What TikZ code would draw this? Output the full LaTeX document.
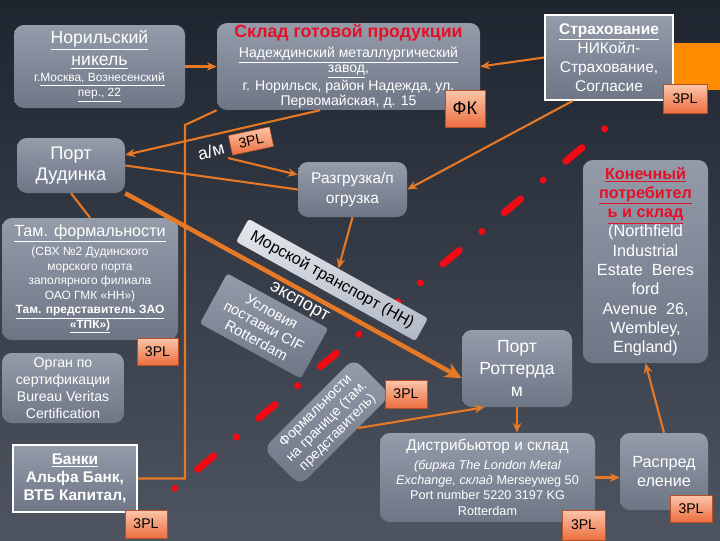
\documentclass[tikz,border=0pt]{standalone}
\usepackage{fontspec}
\setmainfont{Liberation Sans}
\usetikzlibrary{arrows.meta}

\definecolor{bgtop}{RGB}{30,37,47}
\definecolor{bgbot}{RGB}{78,84,96}
\definecolor{boxtop}{RGB}{148,156,170}
\definecolor{boxbot}{RGB}{110,118,134}
\definecolor{lighttop}{RGB}{230,233,238}
\definecolor{lightbot}{RGB}{176,183,195}
\definecolor{tagtop}{RGB}{252,198,170}
\definecolor{tagbot}{RGB}{236,110,64}
\definecolor{tagline}{RGB}{180,80,40}
\definecolor{linkorange}{RGB}{230,120,38}
\definecolor{titlered}{RGB}{228,16,40}
\definecolor{barorange}{RGB}{255,140,0}
\definecolor{dashred}{RGB}{240,10,20}

\newcommand{\fsz}[2]{\fontsize{#1}{#2}\selectfont}
\newcommand{\kred}[1]{{\bfseries\color{titlered}\underline{#1}}}

\tikzset{
  box/.style={rounded corners=7pt, top color=boxtop, bottom color=boxbot,
    text=white, align=center, inner sep=1pt},
  wbox/.style={box, rounded corners=0pt, draw=white, line width=1.4pt},
  lightbox/.style={box, rounded corners=2pt, top color=lighttop,
    bottom color=lightbot, text=black},
  tag/.style={draw=tagline, line width=0.4pt, top color=tagtop,
    bottom color=tagbot, text=black, align=center, inner sep=1pt,
    font=\fsz{10pt}{11pt}},
  wh/.style 2 args={minimum width=#1*0.025cm, minimum height=#2*0.025cm},
  link/.style={draw=linkorange, line width=1.5pt},
  linkto/.style={link, -{Stealth[length=7pt,width=6pt]}},
  export/.style={draw=linkorange, line width=3.2pt,
    -{Stealth[length=12pt,width=11pt]}},
  reddash/.style={draw=dashred, line width=5pt, line cap=round,
    dash pattern=on 14.94pt off 20.98pt on 0.01pt off 20.98pt,
    dash phase=17.43pt}
}

\begin{document}
\begin{tikzpicture}[x=0.025cm,y=-0.025cm]
%\draw[help lines,step=20] (0,0) grid (720,540);
\useasboundingbox (0,0) rectangle (720,540);
\shade[top color=bgtop, bottom color=bgbot] (0,0) rectangle (720,540);
\fill[barorange] (673,43) rectangle (722,90);

% border line
\coordinate (rdA) at (155,505);
\coordinate (rdB) at (627,110);
\draw[reddash] (rdA) -- (rdB);

\node[box, wh={171}{83}, font=\fsz{12.5pt}{15.5pt}] (nickel) at (99.5,66.5)
  {\underline{Норильский}\\\underline{никель}\\[-4pt]
   {\fsz{8.5pt}{10pt}г.\underline{Москва, Вознесенский}}\\[-4.8pt]
   {\fsz{8.5pt}{10pt}\underline{пер., 22}}};
\node[box, wh={263}{83}, font=\fsz{10pt}{10.8pt}] (sklad) at (348.5,66.5)
  {{\fsz{12.6pt}{13pt}\bfseries\color{titlered}Склад готовой продукции}\\[3.5pt]
   \underline{Надеждинский металлургический}\\\underline{завод},\\
   г. Норильск, район Надежда, ул.\\Первомайская, д. 15};
\node[tag, wh={40}{37}, font=\fsz{13pt}{14pt}] (fk) at (465,108.5) {ФК};

\node[wbox, wh={128}{85}, font=\fsz{11pt}{13.5pt}] (strah) at (609,57.5)
  {\textbf{\underline{Страхование}}\\НИКойл-\\Страхование,\\Согласие};
\node[tag, wh={44}{29}] (tagstrah) at (685,98.5) {3PL};

\node[box, wh={108}{55}, font=\fsz{13pt}{14.5pt}] (dudinka) at (71,165.5)
  {Порт\\Дудинка};
\node[box, wh={109}{55}, font=\fsz{11pt}{14pt}] (razgr) at (352.5,189.5)
  {Разгрузка/п\\огрузка};
\node[text=white, rotate=15, inner sep=0pt, font=\fsz{12.5pt}{13pt}] (am) at (211,151) {а/м};
\node[tag, wh={42}{20}, rotate=12] (tagam) at (251,141) {3PL};
\coordinate (amfoot) at (228,158);

\node[box, wh={176}{122}, font=\fsz{8.5pt}{10.3pt}] (tam) at (90,279)
  {{\fsz{11.5pt}{12pt}\underline{Там. формальности}}\\[2.5pt]
   (СВХ №2 Дудинского\\морского порта\\заполярного филиала\\ОАО ГМК «НН»)\\
   \textbf{\underline{Там. представитель ЗАО}}\\\textbf{\underline{«ТПК»)}}};
\node[tag, wh={41}{27}] (tagtam) at (157.5,351.5) {3PL};

\node[box, wh={122}{70}, font=\fsz{10pt}{12pt}] (organ) at (63,388)
  {Орган по\\сертификации\\Bureau Veritas\\Certification};
\node[wbox, wh={124}{67}, font=\fsz{11pt}{13pt}\bfseries] (banki) at (75,478.5)
  {\underline{Банки}\\Альфа Банк,\\ВТБ Капитал,};
\node[tag, wh={42}{28}] (tagbanki) at (146,524) {3PL};

\node[lightbox, wh={205}{26}, rotate=-29, font=\fsz{11.5pt}{12pt}] (morskoy) at (332,280)
  {Морской транспорт (НН)};
\node[text=white, rotate=-29, inner sep=0pt, font=\fsz{13pt}{14pt}] (eksport) at (299,303) {экспорт};
\node[box, rounded corners=2pt, wh={115}{57}, rotate=-28.6, font=\fsz{10.5pt}{11.5pt}] (usloviya) at (264,326)
  {Условия\\поставки CIF\\Rotterdam};
\node[box, wh={128}{52}, rotate=45, font=\fsz{10pt}{11pt}] (formal) at (327,422)
  {Формальности\\на границе (там.\\представитель)};
\node[tag, wh={42}{28}] (tagformal) at (406,394) {3PL};

\node[box, wh={110}{77}, font=\fsz{12.5pt}{15.5pt}] (rotterdam) at (517,368.5)
  {Порт\\Роттерда\\м};
\node[box, wh={215}{89}, font=\fsz{9pt}{11pt}] (distr) at (487.5,477.5)
  {{\fsz{11pt}{12pt}Дистрибьютор и склад}\\[2pt]
   \textit{(биржа The London Metal}\\\textit{Exchange, склад} Merseyweg 50\\
   Port number 5220 3197 KG\\Rotterdam};
\node[tag, wh={43}{30}] (tagdistr) at (583.5,525) {3PL};
\node[box, wh={88}{77}, font=\fsz{11.5pt}{13.5pt}] (raspr) at (664,471.5)
  {Распред\\еление};
\node[tag, wh={42}{27}] (tagraspr) at (691,508.5) {3PL};

\node[box, wh={125}{203}, font=\fsz{11.5pt}{13.7pt}] (konech) at (645.5,261.5)
  {\kred{Конечный}\\\kred{потребител}\\\kred{ь и склад}\\(Northfield\\Industrial\\
   Estate\ \ Beres\\ford\\Avenue\ \ 26,\\Wembley,\\England)};

% connectors
\draw[linkto] (nickel) -- (sklad);
\draw[linkto] (strah.west) -- (sklad.east);
\draw[linkto] (strah.230) -- (razgr.east);
\draw[linkto] (sklad.237) -- (dudinka.11);
\draw[linkto] (amfoot) -- (razgr.165);
\draw[link] (dudinka.east) -- (razgr.west);
\draw[link] (dudinka.south) -- (tam.north);
\draw[export] (dudinka.south east) -- (rotterdam.190);
\draw[linkto] (razgr.south) -- (morskoy.north);
\coordinate (bend) at (185,125);
\draw[link] (sklad.south west) -- (bend) |- (banki.east);
\draw[linkto] (formal.304) -- (rotterdam.230);
\draw[linkto] (rotterdam.south) -- (rotterdam.south |- distr.north);
\draw[linkto] (distr.east) -- (distr.east -| raspr.west);
\draw[linkto] (raspr.north) -- (konech.south);
\end{tikzpicture}
\end{document}
